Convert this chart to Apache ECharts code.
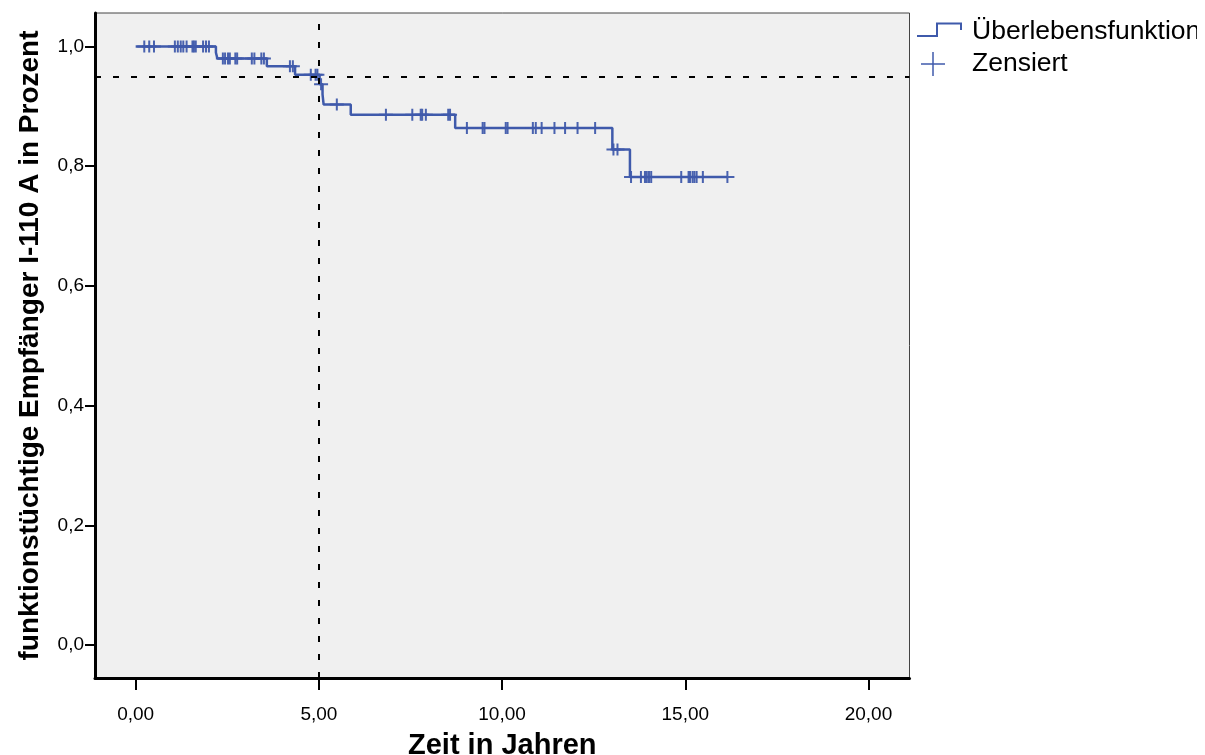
<!DOCTYPE html>
<html>
<head>
<meta charset="utf-8">
<script src="https://cdn.jsdelivr.net/npm/echarts@6/dist/echarts.min.js"></script>
<style>
html,body{margin:0;padding:0;background:#fff;}
#chart{width:1205px;height:755px;}
</style>
</head>
<body>
<div id="chart"></div>
<script>
// Kaplan-Meier step curve: event times (years) and survival after each step
var stepTimes    = [0,    2.19,  2.23,  3.58,  4.35,  5.02,  5.10,  5.13,  5.87,  8.72,  13.01, 13.49, 16.14];
var stepSurvival = [1.0,  0.990, 0.980, 0.967, 0.953, 0.937, 0.920, 0.903, 0.886, 0.864, 0.828, 0.782, 0.782];

// Censored observations (years) and the survival level they sit on
var censorTimes = [
  0.235, 0.37, 0.50, 1.07, 1.15, 1.23, 1.30, 1.39, 1.55, 1.59, 1.64, 1.84, 1.92, 2.00,
  2.38, 2.44, 2.52, 2.57, 2.72, 2.77, 3.17, 3.24, 3.43, 3.50,
  4.21, 4.29,
  4.78, 4.91, 4.96,
  5.06,
  5.49,
  6.83, 7.55, 7.78, 7.82, 7.92, 8.53, 8.58,
  9.04, 9.47, 9.52, 10.10, 10.15, 10.84, 10.92, 11.08, 11.43, 11.72, 12.06, 12.54,
  13.04, 13.15,
  13.52, 13.79, 13.90, 13.95, 14.01, 14.07, 14.89, 15.09, 15.13, 15.20, 15.25, 15.31, 15.48, 16.15
];
var censorSurvival = [
  1.0, 1.0, 1.0, 1.0, 1.0, 1.0, 1.0, 1.0, 1.0, 1.0, 1.0, 1.0, 1.0, 1.0,
  0.980, 0.980, 0.980, 0.980, 0.980, 0.980, 0.980, 0.980, 0.980, 0.980,
  0.967, 0.967,
  0.953, 0.953, 0.953,
  0.937,
  0.903,
  0.886, 0.886, 0.886, 0.886, 0.886, 0.886, 0.886,
  0.864, 0.864, 0.864, 0.864, 0.864, 0.864, 0.864, 0.864, 0.864, 0.864, 0.864, 0.864,
  0.828, 0.828,
  0.782, 0.782, 0.782, 0.782, 0.782, 0.782, 0.782, 0.782, 0.782, 0.782, 0.782, 0.782, 0.782, 0.782
];

var xTicks = [0, 5, 10, 15, 20];
var yTicks = [0, 0.2, 0.4, 0.6, 0.8, 1.0];
var refTime = 5;
var refSurvival = 0.95;

var xTitle = 'Zeit in Jahren';
var yTitle = 'funktionstüchtige Empfänger I-110 A in Prozent';
var legendNames = ['Überlebensfunktion', 'Zensiert'];

var BLUE = '#3F5AAB';
var FONT = 'Liberation Sans, Arial, sans-serif';

var curveData = stepTimes.map(function (t, i) { return [t, stepSurvival[i]]; });
var censorData = censorTimes.map(function (t, i) { return [t, censorSurvival[i]]; });

var chart = echarts.init(document.getElementById('chart'), null, {renderer: 'canvas'});
chart.setOption({
  backgroundColor: '#ffffff',
  animation: false,
  grid: {
    left: 95, right: 295.5, top: 13, bottom: 77,
    outerBoundsMode: 'none', containLabel: false,
    show: true, backgroundColor: '#F0F0F0', borderColor: '#444', borderWidth: 1
  },
  xAxis: {
    type: 'value', min: -1.11, max: 21.12,
    name: xTitle, nameLocation: 'middle', nameGap: 53,
    nameTextStyle: {fontFamily: FONT, fontSize: 29, fontWeight: 'bold', color: '#000'},
    axisLine: {show: true, onZero: false, lineStyle: {color: '#000', width: 3}},
    axisTick: {show: true, inside: false, length: 12, lineStyle: {color: '#000', width: 2}, customValues: xTicks},
    axisLabel: {
      show: true, margin: 27, fontFamily: FONT, fontSize: 19, color: '#000', customValues: xTicks,
      formatter: function (v) { return v.toFixed(2).replace('.', ','); }
    },
    splitLine: {show: false}
  },
  yAxis: {
    type: 'value', min: -0.055, max: 1.056,
    name: yTitle, nameLocation: 'middle', nameGap: 51,
    nameTextStyle: {fontFamily: FONT, fontSize: 28, fontWeight: 'bold', color: '#000'},
    axisLine: {show: true, onZero: false, lineStyle: {color: '#000', width: 3}},
    axisTick: {show: true, inside: false, length: 10, lineStyle: {color: '#000', width: 2}, customValues: yTicks},
    axisLabel: {
      show: true, margin: 11, fontFamily: FONT, fontSize: 19, color: '#000', customValues: yTicks,
      formatter: function (v) { return v.toFixed(1).replace('.', ','); }
    },
    splitLine: {show: false}
  },
  series: [
    {
      name: legendNames[0],
      type: 'line',
      step: 'end',
      data: curveData,
      showSymbol: false,
      symbol: 'none',
      lineStyle: {color: BLUE, width: 2.5},
      z: 3,
      markLine: {
        silent: true,
        symbol: 'none',
        label: {show: false},
        lineStyle: {color: '#000', width: 2, type: [6, 12]},
        data: [{xAxis: refTime}, {yAxis: refSurvival}],
        z: 5
      }
    },
    {
      name: legendNames[1],
      type: 'scatter',
      data: censorData,
      symbol: 'path://M0,5h14v2h-14z M6,0h2v12h-2z',
      symbolSize: [14, 12],
      itemStyle: {color: BLUE, opacity: 0.95},
      z: 4
    }
  ],
  graphic: [
    {
      type: 'polyline', z: 10,
      shape: {points: [[917, 36], [937, 36], [937, 23.5], [961, 23.5], [961, 30]]},
      style: {stroke: BLUE, lineWidth: 2, fill: null}
    },
    {type: 'line', z: 10, shape: {x1: 921, y1: 64, x2: 945, y2: 64}, style: {stroke: BLUE, lineWidth: 1.5}},
    {type: 'line', z: 10, shape: {x1: 933, y1: 52, x2: 933, y2: 76}, style: {stroke: BLUE, lineWidth: 1.5}},
    {
      type: 'text', z: 10, x: 972, y: 32,
      style: {text: legendNames[0], font: '26.5px ' + FONT, fill: '#000', verticalAlign: 'middle', align: 'left'}
    },
    {
      type: 'text', z: 10, x: 972, y: 64,
      style: {text: legendNames[1], font: '26.5px ' + FONT, fill: '#000', verticalAlign: 'middle', align: 'left'}
    },
    {
      type: 'rect', z: 20, shape: {x: 1197, y: 10, width: 10, height: 40},
      style: {fill: '#ffffff'}
    }
  ]
});
</script>
</body>
</html>
